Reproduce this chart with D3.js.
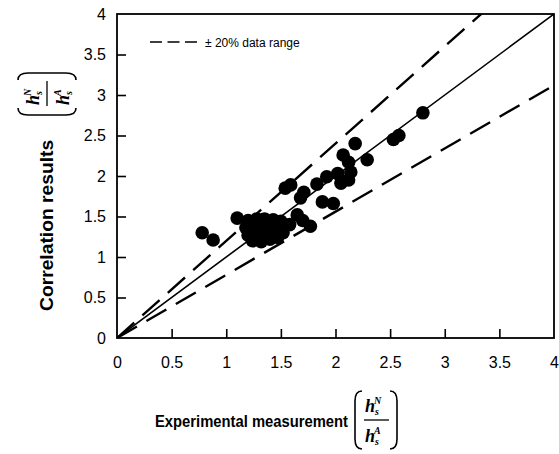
<!DOCTYPE html>
<html>
<head>
<meta charset="utf-8">
<script src="https://cdn.jsdelivr.net/npm/d3@7"></script>
<style>
  body { margin: 0; background: #fff; }
  svg { display: block; font-family: Arial, "Liberation Sans", sans-serif; }
</style>
</head>
<body>
<svg id="chart"></svg>
<script>
// Experimental measurement (x) vs correlation results (y)
const expX = [0.78, 0.88, 1.10,
  1.20, 1.28, 1.35, 1.43, 1.50,
  1.18, 1.26, 1.34, 1.42, 1.50,
  1.20, 1.28, 1.36, 1.44, 1.52,
  1.24, 1.32, 1.40, 1.47, 1.58,
  1.30, 1.38,
  1.65, 1.70, 1.77,
  1.54, 1.59, 1.68, 1.71, 1.83, 1.92, 2.02, 2.05, 2.12, 2.14, 1.88, 1.98,
  2.07, 2.12, 2.18, 2.29, 2.53, 2.58, 2.80];
const corrY = [1.30, 1.21, 1.48,
  1.45, 1.47, 1.47, 1.46, 1.44,
  1.36, 1.38, 1.36, 1.37, 1.36,
  1.27, 1.28, 1.26, 1.28, 1.30,
  1.20, 1.19, 1.22, 1.24, 1.40,
  1.32, 1.42,
  1.52, 1.45, 1.38,
  1.85, 1.89, 1.73, 1.80, 1.90, 1.99, 2.03, 1.91, 1.95, 2.05, 1.68, 1.66,
  2.26, 2.17, 2.40, 2.20, 2.45, 2.50, 2.78];
const xTicks = [0, 0.5, 1, 1.5, 2, 2.5, 3, 3.5, 4];
const yTicks = [0, 0.5, 1, 1.5, 2, 2.5, 3, 3.5, 4];
// y = slope * x reference lines (solid 1:1, dashed upper/lower band)
const lineSlopes = [1.0, 1.2, 0.78];
const lineDashed = [false, true, true];

const width = 559, height = 454;
const margin = { top: 14, right: 5, bottom: 116, left: 117 };

const svg = d3.select("#chart").attr("width", width).attr("height", height);

const x = d3.scaleLinear().domain([0, 4]).range([margin.left, width - margin.right]);
const y = d3.scaleLinear().domain([0, 4]).range([height - margin.bottom, margin.top]);

// clip so reference lines stop at the frame
svg.append("clipPath").attr("id", "clip")
  .append("rect")
  .attr("x", x(0)).attr("y", y(4))
  .attr("width", x(4) - x(0)).attr("height", y(0) - y(4));

svg.append("g").attr("clip-path", "url(#clip)")
  .selectAll("line")
  .data(lineSlopes.map((s, i) => ({ slope: s, dashed: lineDashed[i] })))
  .join("line")
  .attr("x1", x(0)).attr("y1", y(0))
  .attr("x2", x(4)).attr("y2", d => y(4 * d.slope))
  .attr("stroke", "#000")
  .attr("stroke-width", d => d.dashed ? 2.4 : 1.6)
  .attr("stroke-dasharray", d => d.dashed ? "23,11" : null);

// data points
svg.append("g")
  .selectAll("circle")
  .data(expX.map((v, i) => [v, corrY[i]]))
  .join("circle")
  .attr("cx", d => x(d[0]))
  .attr("cy", d => y(d[1]))
  .attr("r", 6.8)
  .attr("fill", "#000");

// axes, ticks pointing inward
const xAxis = svg.append("g")
  .attr("transform", `translate(0,${y(0)})`)
  .call(d3.axisBottom(x).tickValues(xTicks).tickSize(-9).tickPadding(19).tickFormat(d3.format("")));
const yAxis = svg.append("g")
  .attr("transform", `translate(${x(0)},0)`)
  .call(d3.axisLeft(y).tickValues(yTicks).tickSize(-9).tickPadding(11).tickFormat(d3.format("")));

[xAxis, yAxis].forEach(a => {
  a.select(".domain").remove();
  a.selectAll(".tick line").attr("stroke", "#000").attr("stroke-width", 1.6);
  a.selectAll(".tick text")
    .attr("fill", "#000")
    .style("font-family", "Arial, 'Liberation Sans', sans-serif")
    .style("font-size", "16px");
});
xAxis.selectAll(".tick line").filter(d => d === 0 || d === 4).remove();
yAxis.selectAll(".tick line").filter(d => d === 0 || d === 4).remove();

// frame
svg.append("rect")
  .attr("x", x(0)).attr("y", y(4))
  .attr("width", x(4) - x(0)).attr("height", y(0) - y(4))
  .attr("fill", "none").attr("stroke", "#000").attr("stroke-width", 1.8);

// legend
const legend = svg.append("g").attr("transform", "translate(150,42)");
legend.append("line")
  .attr("x1", 0).attr("x2", 47).attr("y1", 0).attr("y2", 0)
  .attr("stroke", "#000").attr("stroke-width", 1.6)
  .attr("stroke-dasharray", "12,5.5");
legend.append("text")
  .attr("x", 55).attr("y", 4.5)
  .style("font-size", "12px")
  .text("\u00b1 20% data range");

// h_s^N / h_s^A in brackets, centred on (0,0)
function fraction(g) {
  const serif = "'Liberation Serif', 'Times New Roman', serif";
  const paren = (s) => `M ${s * 14},-29 Q ${s * 21},-29 ${s * 21},-19 L ${s * 21},19 Q ${s * 21},29 ${s * 14},29`;
  g.append("path").attr("d", paren(-1)).attr("fill", "none").attr("stroke", "#000").attr("stroke-width", 1.6);
  g.append("path").attr("d", paren(1)).attr("fill", "none").attr("stroke", "#000").attr("stroke-width", 1.6);
  g.append("line").attr("x1", -12).attr("x2", 13).attr("y1", 0).attr("y2", 0)
    .attr("stroke", "#000").attr("stroke-width", 1.3);
  [["N", -8], ["A", 22]].forEach(([sup, base]) => {
    const t = g.append("text").attr("x", -11).attr("y", base)
      .style("font-family", serif).style("font-style", "italic").style("font-weight", "bold")
      .style("font-size", "18px");
    t.append("tspan").text("h");
    t.append("tspan").attr("dy", 3).style("font-size", "10px").text("s");
    t.append("tspan").attr("dx", -5).attr("dy", -11).style("font-size", "10px").text(sup);
  });
}

// x title (slightly condensed bold)
svg.append("text")
  .attr("transform", "translate(155,427) scale(0.87,1)")
  .style("font-size", "17px").style("font-weight", "bold")
  .text("Experimental measurement");
fraction(svg.append("g").attr("transform", "translate(376,420)"));

// y title
svg.append("text")
  .attr("transform", "translate(53,311) rotate(-90) scale(1.07,1)")
  .style("font-size", "18px").style("font-weight", "bold")
  .text("Correlation results");
fraction(svg.append("g").attr("transform", "translate(47,94) rotate(-90)"));
</script>
</body>
</html>
